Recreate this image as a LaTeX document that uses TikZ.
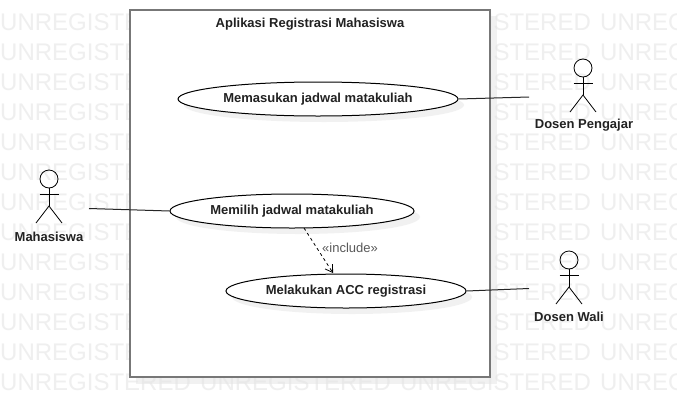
\documentclass[tikz,border=0pt]{standalone}
\usepackage{fontspec}
\setmainfont{Liberation Sans}
\usetikzlibrary{shapes.geometric,arrows.meta}
\definecolor{wm}{HTML}{EFEFEF}
\definecolor{frameC}{HTML}{777777}
\definecolor{shadowC}{HTML}{E4E4E4}
\definecolor{inkC}{HTML}{222222}
\tikzset{
  x=1pt,y=-1pt,
  every node/.style={font=\fontsize{13}{15}\selectfont\bfseries,text=inkC},
  watermark/.style={anchor=base west,inner sep=0pt,font=\fontsize{24}{28}\selectfont,text=wm},
  usecase/.style={ellipse,draw=black,fill=white,line width=1pt,inner sep=0pt},
  caseshadow/.style={ellipse,fill=shadowC,opacity=.5,draw=none,inner sep=0pt},
  actorline/.style={draw=black,line width=.8pt},
  assoc/.style={draw=black!85,line width=1pt},
  actorlabel/.style={inner sep=0pt,anchor=center},
}
\newcommand{\actorfig}[2]{%
  \draw[actorline] (#1,#2) circle[radius=9];
  \draw[actorline] (#1-9.5,#2+15) -- (#1+9.5,#2+15);
  \draw[actorline] (#1,#2+9) -- (#1,#2+27);
  \draw[actorline] (#1-13,#2+44) -- (#1,#2+27) -- (#1+13,#2+44);
}
\begin{document}
\begin{tikzpicture}
\useasboundingbox (0,0) rectangle (677,418);
\fill[white] (0,0) rectangle (677,418);
% watermark
\foreach \r in {1,...,13}{
  \foreach \c in {0,1,2,3}{
    \node[watermark] (w\r-\c) at (200*\c,30*\r) {UNREGISTERED};
  }
}
% frame
\fill[shadowC,opacity=.5] (136,16) rectangle (497,384);
\node[draw=frameC,fill=white,line width=2pt,minimum width=360pt,minimum height=367pt,inner sep=0pt] (sys) at (310,193.5) {};
\node[inner sep=0pt] (title) at (310,24) {Aplikasi Registrasi Mahasiswa};
% shadows
\node[caseshadow,minimum width=280pt,minimum height=34pt] at (324,105) {};
\node[caseshadow,minimum width=244pt,minimum height=34pt] at (298,217) {};
\node[caseshadow,minimum width=240pt,minimum height=34pt] at (352,297) {};
% use cases
\node[usecase,minimum width=280pt,minimum height=34pt] (uc1) at (318,99) {\raisebox{-1pt}{Memasukan jadwal matakuliah}};
\node[usecase,minimum width=244pt,minimum height=34pt] (uc2) at (292,211) {\raisebox{-1pt}{Memilih jadwal matakuliah}};
\node[usecase,minimum width=240pt,minimum height=34pt] (uc3) at (346,291) {\raisebox{-1pt}{Melakukan ACC registrasi}};
% actors
\actorfig{49}{179}
\actorfig{583}{68}
\actorfig{569}{260}
\node[actorlabel] (mhs) at (49,236.5) {Mahasiswa};
\node[actorlabel] (dp) at (584,125) {Dosen Pengajar};
\node[actorlabel] (dw) at (569,317) {Dosen Wali};
\coordinate (amhs) at (89,208.5);
\coordinate (adp) at (529,97);
\coordinate (adw) at (529,288.5);
% connectors
\draw[assoc] (amhs) -- (uc2.west);
\draw[assoc] (uc1.east) -- (adp);
\draw[assoc] (uc3.east) -- (adw);
\coordinate (incA) at (304,228);
\coordinate (incB) at (333,273);
\draw[draw=black,line width=.8pt,dash pattern=on 3pt off 3pt,-{Straight Barb[length=7pt,width=9pt]}] (incA) -- (incB);
\node[inner sep=0pt,font=\fontsize{13}{15}\selectfont,text=black!65] (inc) at (350,248) {«include»};
\end{tikzpicture}
\end{document}
